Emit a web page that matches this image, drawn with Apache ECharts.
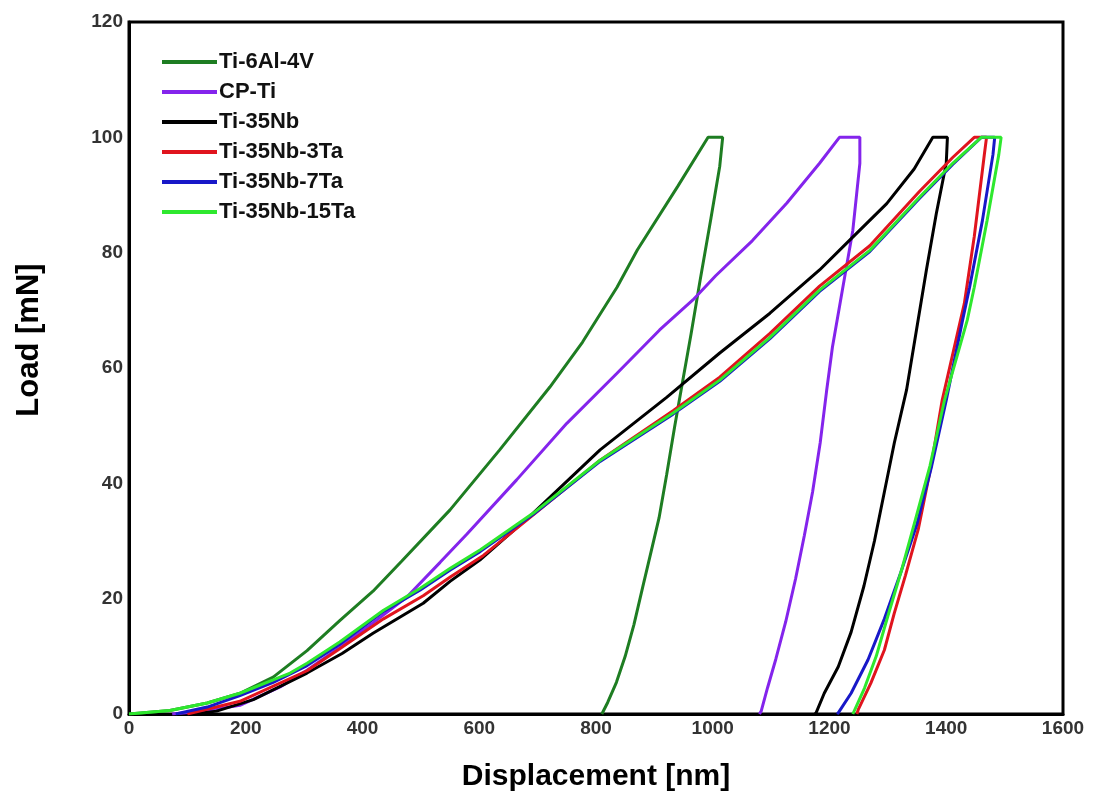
<!DOCTYPE html>
<html>
<head>
<meta charset="utf-8">
<script src="https://cdn.jsdelivr.net/npm/echarts@6/dist/echarts.min.js"></script>
<style>
  html, body { margin: 0; padding: 0; background: #fff; }
  #chart { width: 1096px; height: 798px; }
</style>
</head>
<body>
<div id="chart"></div>
<script>
// displacement [nm], load [mN]
const seriesNames = ["Ti-6Al-4V", "CP-Ti", "Ti-35Nb", "Ti-35Nb-3Ta", "Ti-35Nb-7Ta", "Ti-35Nb-15Ta"];
const seriesColors = ["#1e7d22", "#8424ec", "#000000", "#e0141e", "#1818c8", "#2ee82e"];

const ti6al4v = [
  [0, 0], [70, 0.6], [134, 1.9], [190, 3.6], [247, 6.4], [305, 11], [361, 16.2], [418, 21.3],
  [467, 26.5], [550, 35.4], [635, 45.8], [721, 56.7], [777, 64.5], [836, 74], [871, 80.5],
  [940, 91.5], [992, 100], [1017, 100], [1012, 95], [997, 86], [978, 75], [963, 66], [949, 58],
  [935, 50], [921, 41.5], [908, 34], [894, 28], [880, 22], [865, 15.5], [850, 10], [835, 5.5],
  [820, 2], [810, 0]
];
const cpTi = [
  [74, 0], [130, 0.5], [190, 1.5], [259, 4.7], [305, 7.6], [361, 11.6], [418, 15.8], [476, 20.3],
  [533, 26.3], [579, 31.2], [664, 40.6], [750, 50.4], [836, 59.1], [909, 66.6], [966, 71.8],
  [1005, 76], [1068, 82.1], [1127, 88.6], [1183, 95.5], [1217, 100], [1252, 100], [1252, 95.5],
  [1240, 83.9], [1222, 73.5], [1205, 63.6], [1195, 56], [1184, 47], [1171, 38.5], [1157, 31],
  [1142, 23.5], [1125, 16], [1108, 9.5], [1094, 4.6], [1083, 0.5], [1080, 0]
];
const ti35nb = [
  [110, 0], [150, 0.5], [213, 2.5], [305, 7.1], [365, 10.5], [418, 14], [504, 19.2], [550, 23],
  [601, 26.7], [692, 34.8], [807, 45.8], [921, 54.9], [1012, 62.6], [1098, 69.5], [1183, 77],
  [1229, 81.6], [1298, 88.5], [1345, 94.5], [1377, 100], [1402, 100], [1400, 95.5], [1383, 86.8],
  [1366, 77], [1349, 66.6], [1332, 56.2], [1311, 47], [1294, 38.5], [1277, 30], [1259, 22.2],
  [1237, 14.2], [1215, 8.2], [1191, 3.6], [1177, 0.2], [1175, 0]
];
const ti35nb3ta = [
  [100, 0], [190, 2.2], [305, 7.5], [361, 11.3], [436, 16.5], [504, 20.5], [551, 23.8], [607, 27.5],
  [692, 34.5], [807, 44], [932, 52.6], [1012, 58.4], [1098, 66], [1183, 74.2], [1269, 81.2],
  [1354, 90.6], [1411, 96.5], [1448, 100], [1469, 100], [1465, 96.8], [1448, 82.8], [1431, 71.2],
  [1393, 54.4], [1374, 43], [1352, 32], [1330, 24], [1311, 17.5], [1294, 11.1], [1271, 5.4],
  [1249, 0.7], [1247, 0]
];
const ti35nb7ta = [
  [80, 0], [134, 1.2], [190, 3.2], [247, 5.5], [305, 8.4], [361, 12.1], [436, 17.8], [499, 21.5],
  [551, 25], [602, 28.2], [692, 34.6], [807, 43.8], [932, 52], [1012, 57.7], [1098, 65.1],
  [1183, 73.3], [1269, 80.2], [1354, 89.4], [1411, 95.3], [1460, 100], [1483, 100], [1480, 97],
  [1462, 85.6], [1440, 74], [1428, 68.3], [1400, 54.4], [1375, 43], [1350, 33], [1322, 24.5],
  [1294, 16.5], [1266, 9.4], [1237, 3.6], [1215, 0.2], [1213, 0]
];
const ti35nb15ta = [
  [0, 0], [70, 0.6], [134, 1.9], [190, 3.6], [247, 5.9], [276, 7.1], [305, 8.8], [361, 12.5],
  [436, 18], [499, 21.8], [551, 25.3], [602, 28.5], [692, 34.8], [807, 44], [932, 52.2],
  [1012, 57.9], [1098, 65.3], [1183, 73.5], [1269, 80.4], [1354, 89.6], [1411, 95.5], [1460, 100],
  [1494, 100], [1490, 97], [1470, 85.6], [1448, 74], [1436, 68.3], [1397, 54.4], [1372, 43],
  [1348, 34], [1325, 25.5], [1300, 17], [1280, 10], [1260, 4.5], [1240, 0]
];

const seriesData = [ti6al4v, cpTi, ti35nb, ti35nb3ta, ti35nb7ta, ti35nb15ta];

const chart = echarts.init(document.getElementById("chart"));

const option = {
  animation: false,
  backgroundColor: "#fff",
  textStyle: { fontFamily: "Liberation Sans, Arial, sans-serif" },
  grid: {
    left: 129,
    right: 33,
    top: 22,
    bottom: 84,
    show: true,
    borderColor: "#000",
    borderWidth: 3
  },
  legend: {
    orient: "vertical",
    left: 157,
    top: 46,
    itemWidth: 55,
    itemHeight: 4,
    itemGap: 8,
    icon: "rect",
    data: seriesNames,
    textStyle: {
      color: "#111",
      fontWeight: "bold",
      fontSize: 22,
      lineHeight: 22,
      padding: [0, 0, 0, -3]
    }
  },
  xAxis: {
    type: "value",
    min: 0,
    max: 1600,
    interval: 200,
    name: "Displacement [nm]",
    nameLocation: "middle",
    nameGap: 48,
    nameTextStyle: { color: "#000", fontWeight: "bold", fontSize: 30 },
    splitLine: { show: false },
    axisTick: { show: false },
    axisLine: { lineStyle: { color: "#000", width: 3 } },
    axisLabel: {
      color: "#333",
      fontWeight: "bold",
      fontSize: 19,
      margin: 5,
      formatter: function (v) { return String(v); }
    }
  },
  yAxis: {
    type: "value",
    min: 0,
    max: 120,
    interval: 20,
    name: "Load [mN]",
    nameLocation: "middle",
    nameGap: 84,
    nameTextStyle: { color: "#000", fontWeight: "bold", fontSize: 31, padding: [0, 0, 0, 56] },
    splitLine: { show: false },
    axisTick: { show: false },
    axisLine: { lineStyle: { color: "#000", width: 3 } },
    axisLabel: { color: "#333", fontWeight: "bold", fontSize: 19, margin: 6 }
  },
  series: seriesNames.map(function (name, i) {
    return {
      name: name,
      type: "line",
      data: seriesData[i],
      showSymbol: false,
      symbol: "none",
      color: seriesColors[i],
      lineStyle: { width: 3, color: seriesColors[i] },
      z: 2 + i
    };
  })
};

chart.setOption(option);
</script>
</body>
</html>
